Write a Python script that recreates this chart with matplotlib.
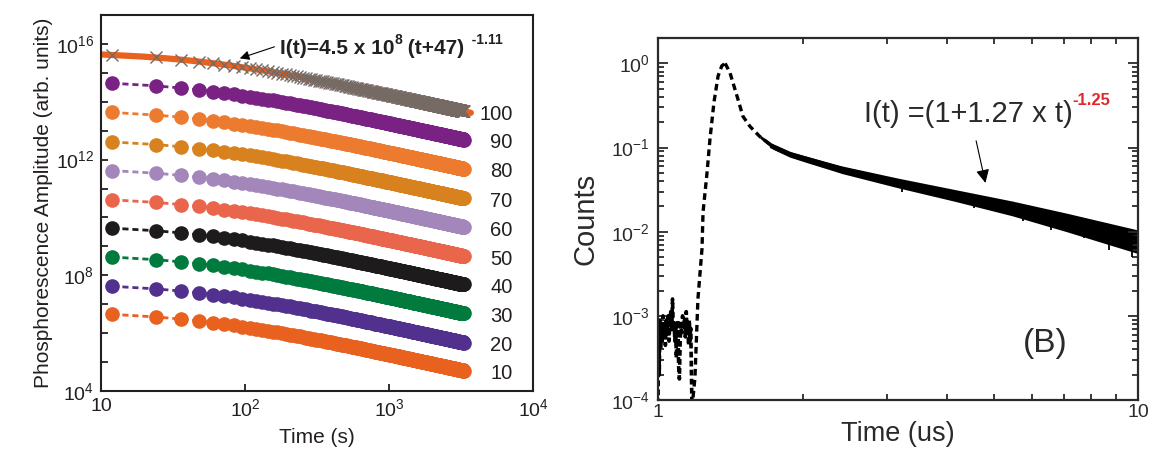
import numpy as np
import matplotlib
matplotlib.use("Agg")
import matplotlib.pyplot as plt
from matplotlib.ticker import LogLocator, NullFormatter, FixedLocator

plt.rcParams['font.family'] = ['Liberation Sans', 'DejaVu Sans']
plt.rcParams['mathtext.fontset'] = 'custom'
plt.rcParams['mathtext.rm'] = 'Liberation Sans'
plt.rcParams['mathtext.bf'] = 'Liberation Sans:bold'
plt.rcParams['mathtext.it'] = 'Liberation Sans:italic'

##############################################
# Panel A data: phosphorescence decay, one series per dose

series_labels = ['10', '20', '30', '40', '50', '60', '70', '80', '90', '100']
series_colors = ['#e8611f', '#52308d', '#007a3d', '#1e1b1c', '#e9654b',
                 '#a386ba', '#d8821f', '#ec7b2f', '#7a2283', '#e8611f']
# log10 of amplitude at the first sample (t = 12 s)
start_log = [6.65, 7.62, 8.63, 9.63, 10.61, 11.62, 12.61, 13.63, 14.64, 15.62]

SAMPLE_DT = 12      # s between samples
NR_SAMPLES = 275    # last sample at 3300 s
FIT_OFFSET = 47     # from the fit I(t)=4.5e8 (t+47)^-1.11
FIT_EXP = -1.11

##############################################
# Panel B data: counts vs time (us)

# background before the pulse, then the rising edge
pre_t = [1.000, 1.003, 1.006, 1.009, 1.012, 1.016, 1.020, 1.024, 1.028, 1.032,
         1.036, 1.040, 1.045, 1.050, 1.054, 1.058, 1.063, 1.068, 1.072, 1.076,
         1.080, 1.084, 1.088, 1.092, 1.096, 1.100, 1.104, 1.108, 1.112, 1.116,
         1.120, 1.125, 1.130, 1.135, 1.140, 1.145, 1.150, 1.154, 1.158, 1.162,
         1.166, 1.170, 1.177, 1.194, 1.211, 1.235, 1.241, 1.265, 1.283, 1.308,
         1.334, 1.358, 1.380]
pre_log = [-4.05, -3.15, -3.7, -3.05, -3.4, -3.1, -3.3, -3.0, -3.25, -3.1,
           -3.35, -3.05, -3.2, -3.0, -3.3, -3.1, -2.95, -3.2, -2.8, -3.15,
           -3.05, -3.3, -3.1, -3.5, -3.2, -3.05, -3.6, -3.75, -3.3, -3.1,
           -3.2, -3.0, -3.15, -3.05, -3.25, -2.95, -3.2, -3.1, -3.35, -3.05,
           -3.3, -3.15, -4.1, -3.73, -2.8, -2.2, -1.77, -1.3, -0.9, -0.46,
           -0.15, -0.03, 0.0]

decay_t = [1.380, 1.412, 1.461, 1.503, 1.555, 1.630, 1.736, 1.883, 2.044,
           2.314, 2.42, 3.17, 4.16, 5.46, 7.10, 10.0]
decay_log = [0.0, -0.11, -0.39, -0.63, -0.75, -0.87, -0.99, -1.08, -1.14,
             -1.23, -1.26, -1.415, -1.56, -1.71, -1.87, -2.09]
# spread of the noisy trace around the mean, in decades
band_lo = [0.0, 0.0, 0.0, 0.0, 0.0, 0.02, 0.03, 0.035, 0.04,
           0.045, 0.05, 0.065, 0.08, 0.10, 0.13, 0.17]
band_hi = [0.0, 0.0, 0.0, 0.0, 0.0, 0.02, 0.03, 0.03, 0.035,
           0.04, 0.04, 0.05, 0.06, 0.075, 0.09, 0.11]

# isolated downward dropouts in the tail: (time, log10 counts)
spike_t = [3.22, 4.55, 5.75, 6.6, 7.7, 8.7, 9.7]
spike_log = [-1.53, -1.72, -1.87, -1.98, -2.08, -2.22, -2.3]

##############################################

fig = plt.figure(figsize=(11.53, 4.49), dpi=100)
ax1 = fig.add_axes([0.0876, 0.1292, 0.3747, 0.8374])
ax2 = fig.add_axes([0.5707, 0.1091, 0.4163, 0.8062])

TXT = '#231f20'

# ---- panel A
t = SAMPLE_DT * np.arange(1, NR_SAMPLES + 1)
for lab, col, sl in zip(series_labels, series_colors, start_log):
    amp = 10**sl / (SAMPLE_DT + FIT_OFFSET)**FIT_EXP
    y = amp * (t + FIT_OFFSET)**FIT_EXP
    if lab == '100':
        t_fit = np.linspace(10, 3700, 400)
        ax1.plot(t_fit, amp * (t_fit + FIT_OFFSET)**FIT_EXP, color=col, lw=4.5,
                 solid_capstyle='round', zorder=2)
        ax1.plot(t, y, ls='none', marker='x', ms=8.5, mew=1.0, color='#756b64', zorder=3)
    else:
        ax1.plot(t, y, color=col, ls=(0, (2.2, 1.4)), lw=2.0, marker='o', ms=9.5,
                 mec=col, mfc=col, zorder=2)
    ax1.text(7200, y[-1] * 10**-0.11, lab, ha='right', va='center', fontsize=14.5, color=TXT)

ax1.set_xscale('log')
ax1.set_yscale('log')
ax1.set_xlim(10, 1e4)
ax1.set_ylim(1e4, 1e17)
ax1.xaxis.set_major_locator(FixedLocator([10, 100, 1000, 10000]))
ax1.set_xticklabels(['10', r'$\mathregular{10^2}$', r'$\mathregular{10^3}$', r'$\mathregular{10^4}$'])
ax1.xaxis.set_minor_locator(FixedLocator([]))
yt = 10.0**np.arange(4, 17)
ax1.yaxis.set_major_locator(FixedLocator(yt))
ax1.set_yticklabels([r'$\mathregular{10^{%d}}$' % e if e % 4 == 0 else '' for e in range(4, 17)])
ax1.yaxis.set_minor_locator(FixedLocator([]))
ax1.tick_params(which='major', direction='in', length=5, width=1.3, labelsize=14,
                colors=TXT, pad=5)
for sp in ax1.spines.values():
    sp.set_linewidth(1.5)
    sp.set_color(TXT)
ax1.set_xlabel('Time (s)', fontsize=15, color=TXT, labelpad=6)
ax1.set_ylabel('Phosphorescence Amplitude (arb. units)', fontsize=15, color=TXT, labelpad=2)

# fit annotation
t1 = ax1.text(0.414, 0.91, 'I(t)=4.5 x 10', transform=ax1.transAxes, fontsize=15,
              fontweight='bold', va='center', ha='left', color=TXT)
t2 = ax1.annotate('8', xy=(1.0, 0.62), xycoords=t1, fontsize=10, fontweight='bold',
                  va='bottom', ha='left', color=TXT)
t3 = ax1.annotate(' (t+47)', xy=(1.0, 0.0), xycoords=(t2, t1), fontsize=15,
                  fontweight='bold', va='bottom', ha='left', color=TXT)
ax1.annotate('  -1.11', xy=(1.0, 0.62), xycoords=(t3, t1), fontsize=10,
             fontweight='bold', va='bottom', ha='left', color=TXT)
ax1.annotate('', xy=(92, 10**15.5), xytext=(160, 10**15.9),
             arrowprops=dict(arrowstyle='-|>', color='black', lw=0.8, mutation_scale=14,
                             shrinkA=0, shrinkB=0), zorder=5)

# ---- panel B
pre_y = 10.0**np.array(pre_log)
ax2.plot(pre_t[:43], pre_y[:43], color='black', lw=2.6, ls=(0, (1.6, 0.9)))
ax2.plot(pre_t[42:], pre_y[42:], color='black', lw=2.4, ls=(0, (2.0, 1.3)))
decay_y = 10.0**np.array(decay_log)
ax2.plot(decay_t[:9], decay_y[:9], color='black', lw=2.4, ls=(0, (2.0, 1.3)))
ax2.fill_between(decay_t[5:], decay_y[5:] * 10.0**(-np.array(band_lo[5:])),
                 decay_y[5:] * 10.0**np.array(band_hi[5:]), color='black', lw=0)
ax2.plot(decay_t[6:], decay_y[6:], color='black', lw=3.5)
# dropouts hang below the band
spike_base = np.interp(np.log10(spike_t), np.log10(decay_t), decay_log)
ax2.vlines(spike_t, 10.0**spike_base, 10.0**np.array(spike_log), color='black', lw=1.3)

ax2.set_xscale('log')
ax2.set_yscale('log')
ax2.set_xlim(1, 10)
ax2.set_ylim(1e-4, 2)
ax2.xaxis.set_major_locator(FixedLocator([1, 10]))
ax2.set_xticklabels(['1', '10'])
ax2.xaxis.set_minor_locator(FixedLocator([2, 3, 4, 5, 6, 7, 8, 9]))
ax2.xaxis.set_minor_formatter(NullFormatter())
ax2.yaxis.set_major_locator(LogLocator(base=10, numticks=10))
ax2.yaxis.set_minor_locator(LogLocator(base=10, subs=np.arange(2, 10), numticks=10))
ax2.yaxis.set_minor_formatter(NullFormatter())
ax2.tick_params(which='both', direction='in', top=True, right=True, colors='#2a2a2a',
                labelsize=14, width=1.3)
ax2.tick_params(which='major', length=7, pad=6)
ax2.tick_params(axis='x', which='major', pad=3)
ax2.tick_params(which='minor', length=4)
for sp in ax2.spines.values():
    sp.set_linewidth(1.6)
    sp.set_color('#2a2a2a')
ax2.set_xlabel('Time (us)', fontsize=19.5, color='#2a2a2a', labelpad=0)
ax2.set_ylabel('Counts', fontsize=21, color='#2a2a2a', labelpad=8)

b1 = ax2.text(2.68, 0.25, 'I(t) =(1+1.27 x t)', fontsize=21, va='center', ha='left',
              color='#2a2a2a')
ax2.annotate('-1.25', xy=(1.0, 0.72), xycoords=b1, fontsize=12, fontweight='bold',
             va='bottom', ha='left', color='#e0282a')
ax2.annotate('', xy=(4.81, 0.038), xytext=(4.6, 0.12),
             arrowprops=dict(arrowstyle='-|>', color='black', lw=0.8, mutation_scale=20,
                             shrinkA=0, shrinkB=0))
ax2.text(6.4, 4.7e-4, '(B)', fontsize=24, va='center', ha='center', color='#2a2a2a')

fig.savefig('out.png', dpi=100)
